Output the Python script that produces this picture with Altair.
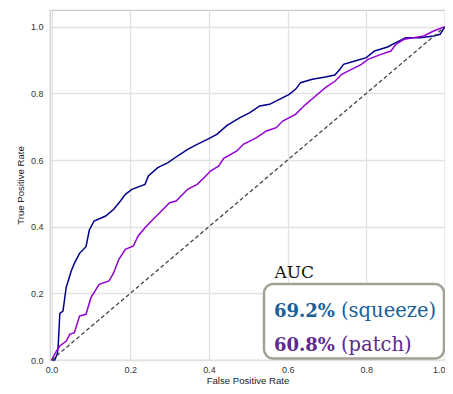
import altair as alt
import pandas as pd

# ROC curve points
squeeze_fpr = [0.0, 0.008, 0.015, 0.017, 0.021, 0.029, 0.037, 0.05, 0.058, 0.071, 0.0875, 0.096, 0.108,
               0.1375, 0.158, 0.175, 0.1875, 0.204, 0.2375, 0.246, 0.27, 0.296, 0.32, 0.346, 0.37, 0.396,
               0.42, 0.446, 0.479, 0.504, 0.529, 0.554, 0.579, 0.604, 0.62, 0.633, 0.6625, 0.696, 0.72,
               0.733, 0.742, 0.771, 0.8, 0.821, 0.854, 0.875, 0.9, 0.9375, 0.971, 0.9875, 1.0]
squeeze_tpr = [0.0, 0.0, 0.02, 0.047, 0.14, 0.147, 0.217, 0.267, 0.29, 0.32, 0.34, 0.39, 0.417,
               0.432, 0.452, 0.477, 0.497, 0.512, 0.527, 0.552, 0.577, 0.592, 0.612, 0.632, 0.647, 0.662,
               0.677, 0.704, 0.727, 0.742, 0.762, 0.767, 0.782, 0.797, 0.812, 0.832, 0.842, 0.849, 0.855,
               0.872, 0.887, 0.897, 0.907, 0.927, 0.939, 0.952, 0.967, 0.967, 0.972, 0.977, 1.0]

patch_fpr = [0.0, 0.0125, 0.021, 0.0375, 0.046, 0.058, 0.071, 0.0875, 0.1, 0.121, 0.146, 0.158, 0.171,
             0.1875, 0.208, 0.22, 0.2375, 0.258, 0.271, 0.3, 0.3165, 0.329, 0.346, 0.37, 0.3875, 0.404,
             0.425, 0.4375, 0.471, 0.4875, 0.521, 0.546, 0.571, 0.5875, 0.62, 0.646, 0.671, 0.696, 0.721,
             0.7375, 0.7625, 0.7875, 0.804, 0.8375, 0.8625, 0.875, 0.896, 0.92, 0.946, 0.971, 1.0]
patch_tpr = [0.0, 0.027, 0.042, 0.057, 0.077, 0.082, 0.132, 0.137, 0.187, 0.227, 0.237, 0.262, 0.302,
             0.332, 0.342, 0.372, 0.397, 0.422, 0.437, 0.472, 0.477, 0.492, 0.512, 0.527, 0.547, 0.567,
             0.582, 0.605, 0.627, 0.647, 0.667, 0.687, 0.697, 0.717, 0.737, 0.767, 0.792, 0.817, 0.837,
             0.857, 0.872, 0.887, 0.902, 0.917, 0.927, 0.947, 0.962, 0.967, 0.972, 0.987, 1.0]

diag_fpr = [0.0, 1.0]
diag_tpr = [0.0, 1.0]

models = ["squeeze", "patch"]
line_colors = ["#00008b", "#9400d3"]
auc_values = ["69.2%", "60.8%"]
auc_names = ["(squeeze)", "(patch)"]
auc_colors = ["#1a5f98", "#5e2a8e"]
tick_vals = [0.0, 0.2, 0.4, 0.6, 0.8, 1.0]

rows = []
for i, (fx, ty) in enumerate(zip(squeeze_fpr, squeeze_tpr)):
    rows.append({"model": "squeeze", "fpr": fx, "tpr": ty, "o": i})
for i, (fx, ty) in enumerate(zip(patch_fpr, patch_tpr)):
    rows.append({"model": "patch", "fpr": fx, "tpr": ty, "o": i})
curves = pd.DataFrame(rows)
diag = pd.DataFrame({"fpr": diag_fpr, "tpr": diag_tpr})

xscale = alt.Scale(domain=[-0.004, 1.0], nice=False, zero=False)
yscale = alt.Scale(domain=[0, 1.05], nice=False, zero=False)
xaxis = alt.Axis(
    values=tick_vals, format=".1f", title="False Positive Rate",
    labelAlign={"condition": {"test": "datum.value >= 1", "value": "right"}, "value": "center"},
)
yaxis = alt.Axis(values=tick_vals, format=".1f", title="True Positive Rate")

lines = alt.Chart(curves).mark_line(strokeWidth=1.5).encode(
    x=alt.X("fpr:Q", scale=xscale, axis=xaxis),
    y=alt.Y("tpr:Q", scale=yscale, axis=yaxis),
    color=alt.Color("model:N", scale=alt.Scale(domain=models, range=line_colors), legend=None),
    order="o:Q",
)

diag_line = alt.Chart(diag).mark_line(color="#444444", strokeWidth=1.3, strokeDash=[4, 2.5]).encode(
    x=alt.X("fpr:Q", scale=xscale),
    y=alt.Y("tpr:Q", scale=yscale, axis=None),
)

ann = pd.DataFrame({"v": auc_values, "n": auc_names, "c": auc_colors, "row": [0, 1]})

box = alt.Chart(pd.DataFrame({"a": [0]})).mark_rect(
    fill="white", stroke="#a3a096", strokeWidth=2.5, cornerRadius=9
).encode(
    x=alt.value(214), x2=alt.value(394), y=alt.value(274), y2=alt.value(348.5)
)

auc_title = alt.Chart(pd.DataFrame({"t": ["AUC"]})).mark_text(
    font="DejaVu Serif", fontSize=17, align="left", baseline="alphabetic", color="#111111"
).encode(x=alt.value(224.5), y=alt.value(268), text="t:N")

row_y = alt.Scale(domain=[0, 1], range=[307.3, 341])
bold_txt = alt.Chart(ann).mark_text(
    font="DejaVu Serif", fontSize=18, fontWeight="bold", align="left", baseline="alphabetic"
).encode(
    x=alt.value(224),
    y=alt.Y("row:Q", scale=row_y, axis=None),
    text="v:N",
    color=alt.Color("c:N", scale=None),
)
name_txt = alt.Chart(ann).mark_text(
    font="DejaVu Serif", fontSize=19.5, align="left", baseline="alphabetic"
).encode(
    x=alt.value(291),
    y=alt.Y("row:Q", scale=row_y, axis=None),
    text="n:N",
    color=alt.Color("c:N", scale=None),
)

chart = alt.layer(lines, diag_line, box, auc_title, bold_txt, name_txt).resolve_scale(
    y="independent"
).properties(
    width=395, height=350,
    autosize=alt.AutoSizeParams(type="none"),
    padding={"left": 42, "top": 2, "right": 0, "bottom": 26},
).configure_view(
    stroke="#cccccc", strokeWidth=1.25
).configure_axis(
    grid=True, gridColor="#e2e2e2", gridWidth=1.3, domain=False, ticks=False, tickSize=0,
    labelFont="Liberation Sans", labelFontSize=9, labelColor="#333333",
    titleFont="Liberation Sans", titleFontSize=9.6, titleFontWeight="normal", titleColor="#222222",
).configure_axisX(
    labelPadding=5.5, titlePadding=1
).configure_axisY(
    labelPadding=7, titlePadding=5
)

chart.save("out.html", embed_options={"renderer": "svg", "actions": False})
